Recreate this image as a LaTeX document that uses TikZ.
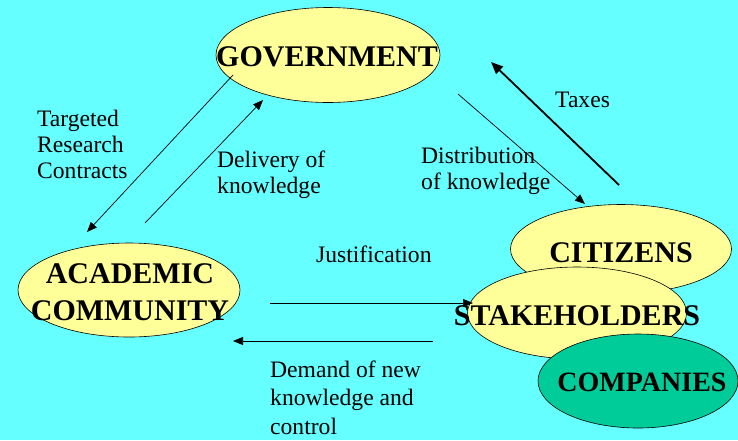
\documentclass[tikz,border=0pt]{standalone}
\usepackage{fontspec}
\setmainfont{Liberation Serif}
\usetikzlibrary{shapes.geometric,arrows.meta}
\definecolor{bg}{HTML}{66FFFF}
\definecolor{pale}{HTML}{FFFF99}
\definecolor{comp}{HTML}{00CC99}
\begin{document}
\begin{tikzpicture}[x=1pt,y=-1pt,
 blob/.style={ellipse, draw=black, line width=0.6pt, fill=pale, inner sep=0pt},
 big/.style={font=\fontsize{30}{37}\selectfont\bfseries, anchor=base, inner sep=0pt, align=center},
 lbl/.style={font=\fontsize{23.6}{26}\selectfont, align=left, anchor=base west, inner sep=0pt},
 arr/.style={line width=0.7pt, -{Triangle[length=10pt,width=8pt]}},
 thickarr/.style={line width=1.8pt, -{Triangle[length=12pt,width=10pt]}},
]
\fill[bg] (0,0) rectangle (738,440);
\useasboundingbox (0,0) rectangle (738,440);

% ellipses
\node[blob, minimum width=224pt, minimum height=95pt] (gov) at (328,55) {};
\node[blob, minimum width=222pt, minimum height=94pt] (acad) at (129,290) {};
\node[blob, minimum width=221pt, minimum height=89pt] (cit) at (621,249) {};
\node[blob, minimum width=219pt, minimum height=92pt] (stake) at (577,313) {};

% connectors
\coordinate (t1) at (233,75);  \coordinate (t2) at (87,232);
\coordinate (d1) at (145,223); \coordinate (d2) at (263,100);
\coordinate (r1) at (458,94);  \coordinate (r2) at (585,204);
\coordinate (x1) at (619,185); \coordinate (x2) at (491,62);
\coordinate (j1) at (270,303); \coordinate (j2) at (473,303);
\coordinate (m1) at (433,341); \coordinate (m2) at (233,341);
\draw[arr] (t1) -- (t2);
\draw[arr] (d1) -- (d2);
\draw[arr] (r1) -- (r2);
\draw[thickarr] (x1) -- (x2);
\draw[arr] (j1) -- (j2);
\draw[arr] (m1) -- (m2);

\node[blob, fill=comp, minimum width=200pt, minimum height=94pt] (comp) at (638,381) {};

% ellipse texts
\node[big] (govt) at (327,66) {GOVERNMENT};
\node[big] (acadt) at (130,320) {ACADEMIC\\COMMUNITY};
\node[big] (citt) at (621,262) {CITIZENS};
\node[big] (staket) at (577,325) {STAKEHOLDERS};
\node[big, font=\fontsize{28}{34}\selectfont\bfseries] (compt) at (642,391) {COMPANIES};

% labels
\node[lbl] (l1) at (37,178) {Targeted\\Research\\Contracts};
\node[lbl] (l2) at (217,193) {Delivery of\\knowledge};
\node[lbl] (l3) at (555,107) {Taxes};
\node[lbl] (l4) at (421,189) {Distribution\\of knowledge};
\node[lbl] (l5) at (316,262) {Justification};
\node[lbl, font=\fontsize{23.6}{28.5}\selectfont] (l6) at (270,434) {Demand of new\\knowledge and\\control};
\end{tikzpicture}
\end{document}
